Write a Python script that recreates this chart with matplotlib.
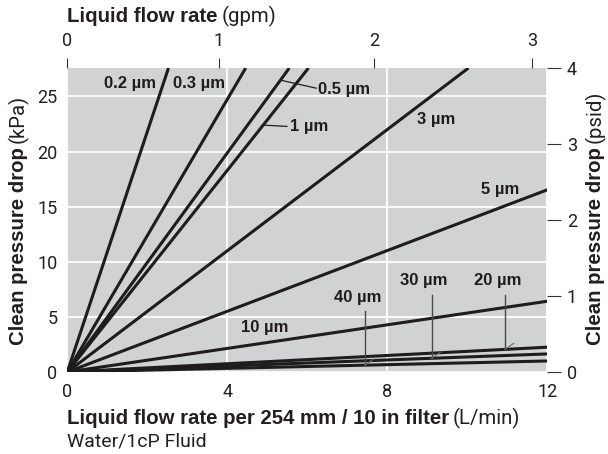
import numpy as np
import matplotlib.pyplot as plt

KPA_PER_PSI = 6.895

# filter grades and where each straight line ends (L/min, kPa)
grades = ['0.2 µm', '0.3 µm', '0.5 µm', '1 µm', '3 µm', '5 µm', '10 µm', '20 µm', '30 µm', '40 µm']
flow_end = [2.53, 4.46, 5.55, 6.03, 10.03, 12.0, 12.0, 12.0, 12.0, 12.0]
drop_end = [27.58, 27.58, 27.58, 27.58, 27.58, 16.53, 6.42, 2.25, 1.64, 1.00]

# axis ticks
lpm_ticks = [0, 4, 8, 12]
kpa_ticks = [0, 5, 10, 15, 20, 25]
psid_ticks = [0, 1, 2, 3, 4]
gpm_pos = [0, 3.79, 7.68, 11.61]
gpm_labels = ['0', '1', '2', '3']

plt.rcParams['font.family'] = ['Liberation Sans', 'DejaVu Sans']
THIN = ['Roboto', 'Liberation Sans', 'DejaVu Sans']
INK = '#1e1c1d'
W, H = 608, 454

fig = plt.figure(figsize=(6.08, 4.54), dpi=100)
ax = fig.add_axes([67.3 / W, 82 / H, 480 / W, 304 / H])
ax.set_facecolor('#d1d2d4')
ax.set_xlim(0, 12)
ax.set_ylim(0, 4 * KPA_PER_PSI)
for s in ax.spines.values():
    s.set_visible(False)
ax.set_xticks(lpm_ticks)
ax.set_yticks(kpa_ticks)
ax.grid(color='white', lw=1.3)
ax.set_axisbelow(True)
ax.tick_params(axis='x', length=0, pad=8)
ax.tick_params(axis='y', length=0, pad=7)

slopes = {}
for g, fx, fy in zip(grades, flow_end, drop_end):
    ax.plot([0, fx], [0, fy], color=INK, lw=2.2, solid_capstyle='butt', clip_on=True)
    slopes[g] = fy / fx

# top axis (gpm)
axt = ax.twiny()
axt.set_xlim(ax.get_xlim())
axt.set_xticks(gpm_pos)
axt.set_xticklabels(gpm_labels)
axt.tick_params(axis='x', direction='out', length=7, width=0.8, color='#333333', pad=6)

# right axis (psid)
axr = ax.twinx()
axr.set_ylim(ax.get_ylim())
axr.set_yticks([p * KPA_PER_PSI for p in psid_ticks])
axr.set_yticklabels([str(p) for p in psid_ticks])
axr.tick_params(axis='y', direction='out', length=10, width=0.8, color='#333333', pad=4)
for a in (axt, axr):
    for s in a.spines.values():
        s.set_visible(False)

for a in (ax, axt, axr):
    for lbl in a.get_xticklabels() + a.get_yticklabels():
        lbl.set_family(THIN)
        lbl.set_fontsize(13)
        lbl.set_color('#231f20')

# series labels
lab = dict(fontsize=12, fontweight='bold', color=INK)
ax.text(2.23, 26.2, '0.2 µm', ha='right', va='center', **lab)
ax.text(3.30, 26.2, '0.3 µm', ha='center', va='center', **lab)
ax.text(6.27, 25.6, '0.5 µm', ha='left', va='center', **lab)
ax.text(5.57, 22.3, '1 µm', ha='left', va='center', **lab)
ax.text(9.23, 22.9, '3 µm', ha='center', va='center', **lab)
ax.text(10.82, 16.6, '5 µm', ha='center', va='center', **lab)
ax.text(4.94, 4.0, '10 µm', ha='center', va='center', **lab)
ax.text(7.27, 6.76, '40 µm', ha='center', va='center', **lab)
ax.text(8.91, 8.31, '30 µm', ha='center', va='center', **lab)
ax.text(10.77, 8.31, '20 µm', ha='center', va='center', **lab)

# leaders for 0.5 and 1 µm
x05 = 26.48 / slopes['0.5 µm']
ax.plot([x05, 6.22], [26.48, 25.75], color=INK, lw=0.9)
x1 = 22.4 / slopes['1 µm']
ax.plot([x1, 5.49], [22.4, 22.28], color=INK, lw=0.9)

# leaders for 20 / 30 / 40 µm
for g, lx, ltop in [('40 µm', 7.44, 5.5), ('30 µm', 9.11, 7.03), ('20 µm', 10.94, 7.03)]:
    ly = slopes[g] * lx
    ax.plot([lx, lx], [ly, ltop], color='#4a4a4a', lw=1.0)
    ax.plot([lx, lx + 0.22], [ly, ly + 0.55], color='#6a6a6a', lw=0.8)


def rich(x, y, parts, rotation=0):
    # parts: list of (text, weight, family, size); x, y in pixels from top-left
    texts = []
    for s, w, fam, size in parts:
        t = fig.text(0, 0, s, fontweight=w, family=fam, fontsize=size, color='#231f20',
                     rotation=rotation, rotation_mode='anchor', ha='left', va='baseline')
        texts.append(t)
    fig.canvas.draw()
    r = fig.canvas.get_renderer()
    sizes = []
    for t in texts:
        bb = t.get_window_extent(r)
        sizes.append(bb.width if rotation == 0 else bb.height)
    gap = 4
    total = sum(sizes) + gap * (len(sizes) - 1)
    if rotation == 0:
        cx = x
        for t, sz in zip(texts, sizes):
            t.set_position((cx / W, 1 - y / H))
            cx += sz + gap
    else:
        cy = (H - y) - total / 2
        for t, sz in zip(texts, sizes):
            t.set_position((x / W, cy / H))
            cy += sz + gap


rich(67, 22, [('Liquid flow rate', 'bold', ['Liberation Sans'], 14.7),
              ('(gpm)', 'normal', THIN, 14.7)])
rich(67, 424, [('Liquid flow rate per 254 mm / 10 in filter', 'bold', ['Liberation Sans'], 14.7),
               ('(L/min)', 'normal', THIN, 14.7)])
rich(67, 447, [('Water/1cP Fluid', 'normal', THIN, 14)])
rich(24, 220, [('Clean pressure drop', 'bold', ['Liberation Sans'], 14.7),
               ('(kPa)', 'normal', THIN, 14.7)], rotation=90)
rich(601, 218, [('Clean pressure drop', 'bold', ['Liberation Sans'], 14.7),
                ('(psid)', 'normal', THIN, 14.7)], rotation=90)

fig.savefig('out.png', dpi=100)
